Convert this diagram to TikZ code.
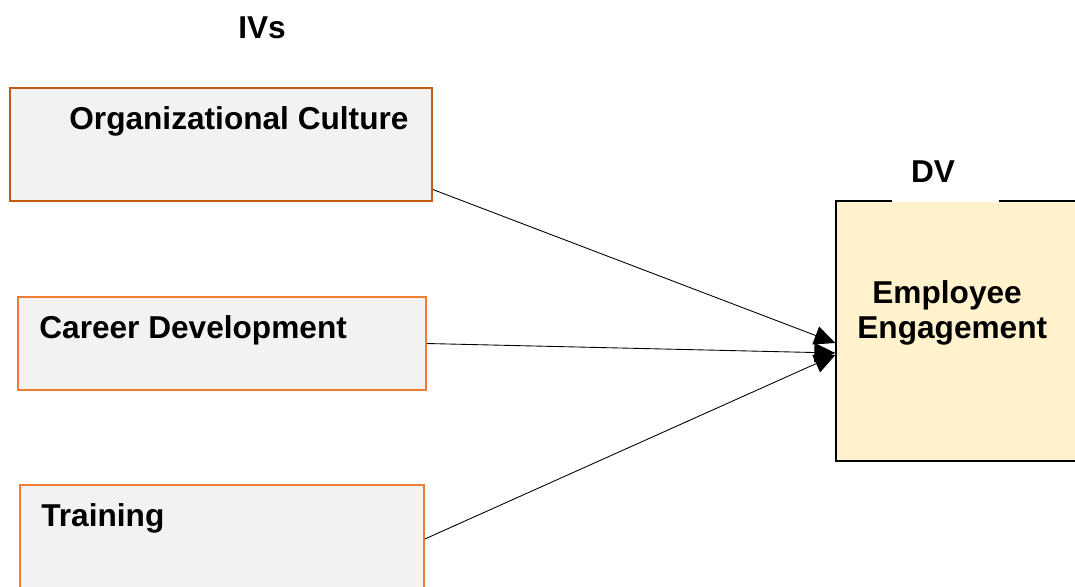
\documentclass[tikz,border=0pt]{standalone}
\usepackage{fontspec}
\setmainfont{Liberation Sans}
\usepackage{xcolor}
\usetikzlibrary{arrows.meta}

\definecolor{ocorange}{HTML}{C55A11}
\definecolor{lorange}{HTML}{ED7D31}
\definecolor{boxgray}{HTML}{F2F2F2}
\definecolor{dvyellow}{HTML}{FFF2CC}

\begin{document}
\begin{tikzpicture}[x=0.02cm,y=-0.02cm,
  ivbox/.style={draw=lorange,line width=1.1pt,fill=boxgray,inner sep=0pt},
  txt/.style={font=\fontsize{18}{21}\selectfont\bfseries,inner sep=0pt,anchor=base west},
  link/.style={-{Triangle[length=0.42cm,width=0.38cm]},line width=0.5pt}]
\useasboundingbox (0,0) rectangle (1075,586);
\clip (0,0) rectangle (1075,586);

\node[ivbox, draw=ocorange, minimum width=8.44cm, minimum height=2.26cm] (OC) at (221,144.5) {};
\node[ivbox, minimum width=8.16cm, minimum height=1.86cm] (CD) at (222,343.5) {};
\node[ivbox, minimum width=8.08cm, minimum height=2.3cm]  (T)  at (222,542.5) {};
\node[draw, line width=0.8pt, fill=dvyellow, inner sep=0pt,
      minimum width=5.08cm, minimum height=5.2cm] (EE) at (963,331) {};

\node[txt] (IV)  at (238,38)  {IVs};
\node[fill=white, inner sep=0pt, minimum width=2.14cm, minimum height=1.22cm,
      font=\fontsize{18}{21}\selectfont\bfseries] (DV) at (945.5,171.5) {\hspace*{-0.5cm}DV};
\node[txt] (OCt) at (69,129)  {Organizational Culture};
\node[txt] (CDt) at (39,338)  {Career Development};
\node[txt] (Tt)  at (41,526)  {Training};
\node[txt, align=left] (EEt) at (857,338) {\hspace*{0.3cm}Employee\\[-0.05cm]Engagement};

\draw[link] (OC.-12)  -- ([yshift=-0.24cm]EE.west);
\draw[link] (CD.east) -- ([yshift=-0.44cm]EE.west);
\draw[link] (T.1.5)   -- ([yshift=-0.48cm]EE.west);
\end{tikzpicture}
\end{document}
